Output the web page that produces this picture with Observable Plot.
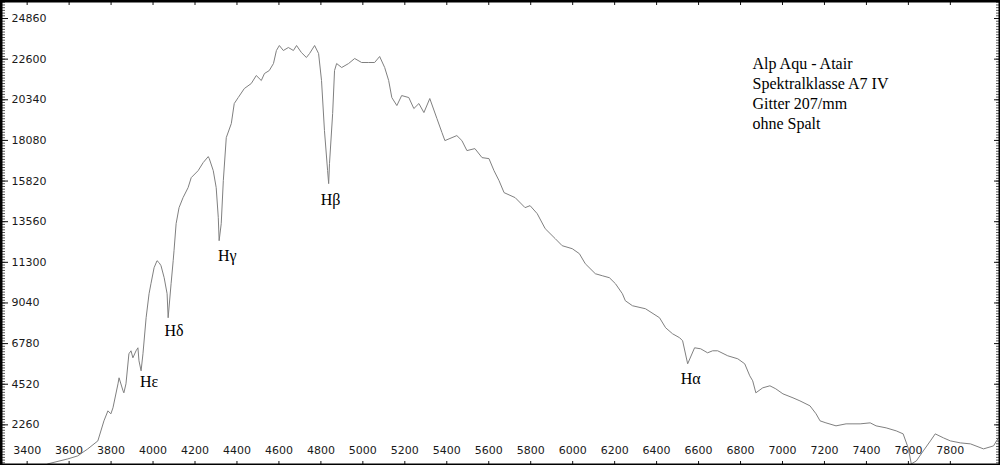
<!DOCTYPE html>
<html>
<head>
<meta charset="utf-8">
<script src="https://cdn.jsdelivr.net/npm/d3@7"></script>
<script src="https://cdn.jsdelivr.net/npm/@observablehq/plot@0.6"></script>
<style>
  html, body { margin: 0; padding: 0; background: #fff; overflow: hidden; }
  #chart svg { display: block; }
</style>
</head>
<body>
<div id="chart"></div>
<script>
// Wavelength (Å) and relative flux
const wavelength = [3498,3594,3641,3689,3737,3766,3785,3799,3809,3833,3838,3857,3861,3871,3885,3895,3904,3919,3928,3933,
  3943,3952,3967,3981,3990,4005,4019,4029,4038,4053,4067,4072,4086,4096,4100,4110,4124,4143,4167,4182,
  4215,4239,4263,4268,4287,4301,4311,4315,4325,4335,4349,4373,4387,4406,4435,4468,4492,4516,4531,4554,
  4574,4588,4602,4621,4645,4669,4684,4707,4731,4746,4770,4789,4803,4817,4832,4837,4841,4856,4865,4875,
  4899,4932,4961,4994,5028,5056,5080,5104,5123,5138,5162,5185,5219,5243,5267,5291,5319,5353,5377,5391,
  5448,5472,5496,5534,5568,5601,5625,5649,5673,5726,5773,5797,5831,5869,5917,5950,5998,6032,6060,6108,
  6141,6175,6204,6237,6251,6285,6347,6414,6443,6476,6510,6524,6548,6581,6610,6643,6667,6691,6739,6787,
  6820,6844,6858,6873,6906,6940,6968,7002,7050,7083,7131,7160,7179,7207,7255,7303,7336,7370,7418,7446,
  7494,7542,7575,7599,7614,7638,7671,7705,7728,7767,7800,7848,7896,7958,8006,8020,8039];
const flux = [90,367,534,924,1369,2483,3040,2873,3207,4543,4877,4153,4042,4543,6213,6380,5990,6380,6547,5823,
  5266,6213,8217,9553,10110,11000,11390,11279,11112,10444,9553,8217,10110,11390,11947,13450,14341,14897,15454,16011,
  16400,16846,17180,17068,16400,15454,13784,12503,13450,15844,18237,19017,20130,20464,20965,21244,21689,21411,21800,21967,
  22357,23081,23359,23081,23248,23081,23359,22969,22691,22914,23359,22914,21411,18627,16400,15677,16790,19574,21967,22357,
  22134,22357,22636,22413,22413,22413,22747,22134,21411,20464,20019,20575,20464,19852,20130,19629,20409,19295,18516,18070,
  18349,18070,17514,17625,17124,17068,16400,15844,15176,14897,14341,14452,14007,13172,12615,12225,12058,11780,11223,10666,
  10555,10444,10110,9553,9163,8885,8718,8217,7660,7326,7103,6936,5656,6547,6491,6268,6380,6380,6102,5934,
  5656,4988,4710,4042,4320,4432,4265,3986,3763,3596,3318,2873,2483,2372,2205,2316,2316,2316,2372,2205,
  2093,1926,1759,980,90,256,812,1369,1759,1537,1369,1258,1202,924,1091,1369,1648];

// Axis tick labels
const yTicks = [2260,4520,6780,9040,11300,13560,15820,18080,20340,22600,24860];
const xTicks = [3400,3600,3800,4000,4200,4400,4600,4800,5000,5200,5400,5600,5800,6000,6200,6400,6600,6800,7000,7200,7400,7600,7800];
const yMinorTicks = d3.range(0, 26000, 2260 / 15);

// Balmer line labels: name, wavelength, flux level of label
const lineNames = ["Hε","Hδ","Hγ","Hβ","Hα"];
const lineWave  = [3981, 4100, 4354, 4846, 6562];
const lineLevel = [4654, 7493, 11668, 14786, 4821];

const infoText = "Alp Aqu - Atair\nSpektralklasse A7 IV\nGitter 207/mm\nohne Spalt";

const spectrum = wavelength.map((w, i) => ({w, f: flux[i]}));
const lineLabels = lineNames.map((n, i) => ({n, w: lineWave[i], f: lineLevel[i]}));

const chart = Plot.plot({
  width: 1000,
  height: 465,
  margin: 0,
  x: {domain: [3273, 8039]},
  y: {domain: [0, 25862]},
  style: {background: "#fff", fontFamily: "DejaVu Sans, Verdana, sans-serif", fontSize: "11px", color: "#111"},
  marks: [
    // left ruler
    Plot.axisY({ticks: yMinorTicks, anchor: "left", tickSize: -5, stroke: "#555", fill: "none", label: null}),
    Plot.axisY({ticks: yTicks, anchor: "left", tickSize: -8, stroke: "#111", fill: "none", label: null}),
    // right ruler
    Plot.axisY({ticks: yMinorTicks, anchor: "right", tickSize: -5, stroke: "#555", fill: "none", label: null}),
    Plot.axisY({ticks: yTicks, anchor: "right", tickSize: -7, stroke: "#111", fill: "none", label: null}),
    // bottom / top ticks
    Plot.axisX({ticks: xTicks, anchor: "bottom", tickSize: -4, stroke: "#111", fill: "none", label: null}),
    Plot.axisX({ticks: xTicks, anchor: "top", tickSize: -4, stroke: "#111", fill: "none", label: null}),
    // tick labels
    Plot.text(yTicks, {y: d => d, text: d => String(d), frameAnchor: "left", textAnchor: "start", dx: 11, fill: "#1a1a1a"}),
    Plot.text(xTicks, {x: d => d, text: d => String(d), frameAnchor: "bottom", dy: -12, fill: "#1a1a1a"}),
    // spectrum
    Plot.line(spectrum, {x: "w", y: "f", stroke: "#808080", strokeWidth: 1, clip: true}),
    // line labels
    Plot.text(lineLabels, {x: "w", y: "f", text: "n", fontFamily: "Liberation Serif, Times New Roman, serif", fontSize: 16, fill: "#000"}),
    // info block
    Plot.text([infoText], {frameAnchor: "top-left", dx: 752, dy: 54, textAnchor: "start", lineAnchor: "top", lineHeight: 1.25,
      fontFamily: "Liberation Serif, Times New Roman, serif", fontSize: 16, fill: "#000"}),
    Plot.frame({stroke: "#000", strokeWidth: 4})
  ]
});
document.getElementById("chart").append(chart);
</script>
</body>
</html>
